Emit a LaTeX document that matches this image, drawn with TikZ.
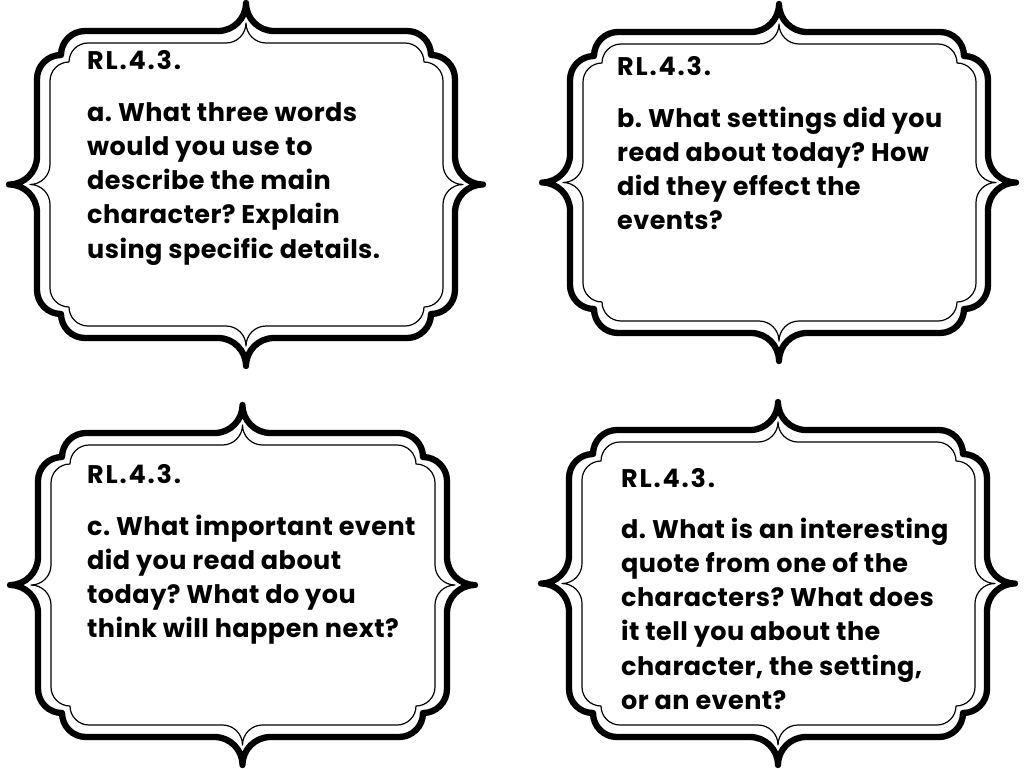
\documentclass[tikz,border=0pt]{standalone}
\usepackage{fontspec}
\setmainfont{Poppins}[LetterSpace=1.8]
\newfontfamily\titlefont{Poppins}[LetterSpace=7]
\tikzset{
  outerline/.style={line width=6.3pt, line join=round, black},
  innerline/.style={line width=1.2pt, line join=round, black},
  titletext/.style={anchor=base west, inner sep=0pt, font=\titlefont\fontsize{25.5}{34.3}\selectfont\bfseries},
  bodytext/.style={anchor=base west, inner sep=0pt, font=\fontsize{25.5}{34.3}\selectfont\bfseries},
}
\newcommand\cardtext[1]{\parbox[t]{400pt}{\raggedright #1}}
% path of one frame, from the macros \fL \fT \fR \fB \fr \fd \fcx \fcy
\newcommand\framepath[1]{%
  \draw[#1] (\fcx,{\fT-\fd})
    .. controls (\fcx,{\fT-\fd+0.552*\fd}) and ({\fcx+\fd-0.552*\fd},\fT) .. ({\fcx+\fd},\fT)
    -- ({\fR-2*\fr},\fT)
    .. controls ({\fR-2*\fr+0.552*\fr},\fT) and ({\fR-\fr},{\fT+\fr-0.552*\fr}) .. ({\fR-\fr},{\fT+\fr})
    .. controls ({\fR-\fr+0.552*\fr},{\fT+\fr}) and (\fR,{\fT+2*\fr-0.552*\fr}) .. (\fR,{\fT+2*\fr})
    -- (\fR,{\fcy-\fd})
    .. controls (\fR,{\fcy-\fd+0.552*\fd}) and ({\fR+\fd-0.552*\fd},\fcy) .. ({\fR+\fd},\fcy)
    .. controls ({\fR+\fd-0.552*\fd},\fcy) and (\fR,{\fcy+\fd-0.552*\fd}) .. (\fR,{\fcy+\fd})
    -- (\fR,{\fB-2*\fr})
    .. controls (\fR,{\fB-2*\fr+0.552*\fr}) and ({\fR-\fr+0.552*\fr},{\fB-\fr}) .. ({\fR-\fr},{\fB-\fr})
    .. controls ({\fR-\fr},{\fB-\fr+0.552*\fr}) and ({\fR-2*\fr+0.552*\fr},\fB) .. ({\fR-2*\fr},\fB)
    -- ({\fcx+\fd},\fB)
    .. controls ({\fcx+\fd-0.552*\fd},\fB) and (\fcx,{\fB+\fd-0.552*\fd}) .. (\fcx,{\fB+\fd})
    .. controls (\fcx,{\fB+\fd-0.552*\fd}) and ({\fcx-\fd+0.552*\fd},\fB) .. ({\fcx-\fd},\fB)
    -- ({\fL+2*\fr},\fB)
    .. controls ({\fL+2*\fr-0.552*\fr},\fB) and ({\fL+\fr},{\fB-\fr+0.552*\fr}) .. ({\fL+\fr},{\fB-\fr})
    .. controls ({\fL+\fr-0.552*\fr},{\fB-\fr}) and (\fL,{\fB-2*\fr+0.552*\fr}) .. (\fL,{\fB-2*\fr})
    -- (\fL,{\fcy+\fd})
    .. controls (\fL,{\fcy+\fd-0.552*\fd}) and ({\fL-\fd+0.552*\fd},\fcy) .. ({\fL-\fd},\fcy)
    .. controls ({\fL-\fd+0.552*\fd},\fcy) and (\fL,{\fcy-\fd+0.552*\fd}) .. (\fL,{\fcy-\fd})
    -- (\fL,{\fT+2*\fr})
    .. controls (\fL,{\fT+2*\fr-0.552*\fr}) and ({\fL+\fr-0.552*\fr},{\fT+\fr}) .. ({\fL+\fr},{\fT+\fr})
    .. controls ({\fL+\fr},{\fT+\fr-0.552*\fr}) and ({\fL+2*\fr-0.552*\fr},\fT) .. ({\fL+2*\fr},\fT)
    -- ({\fcx-\fd},\fT)
    .. controls ({\fcx-\fd+0.552*\fd},\fT) and (\fcx,{\fT-\fd+0.552*\fd}) .. (\fcx,{\fT-\fd})
    -- cycle;}
% \cardframe{L}{T}{R}{B}
\newcommand\cardframe[4]{%
  \pgfmathsetmacro\fcx{(#1+#3)/2}\pgfmathsetmacro\fcy{(#2+#4)/2}%
  \def\fL{#1}\def\fT{#2}\def\fR{#3}\def\fB{#4}\def\fr{24}\def\fd{28}%
  \framepath{outerline}%
  \pgfmathsetmacro\fL{#1+13}\pgfmathsetmacro\fT{#2+12}%
  \pgfmathsetmacro\fR{#3-12}\pgfmathsetmacro\fB{#4-12}%
  \def\fr{19}\def\fd{20}%
  \framepath{innerline}%
}
\begin{document}
\frenchspacing
\begin{tikzpicture}[x=1pt,y=-1pt]
  \useasboundingbox[fill=white] (0,0) rectangle (1024,768);
  % frames
  \cardframe{37}{31}{455}{338}
  \cardframe{570}{32}{988}{333}
  \cardframe{38}{433}{447}{737}
  \cardframe{569}{430}{987}{737}
  % card a
  \node[titletext] (ta) at (87,70) {RL.4.3.};
  \node[bodytext] (ba) at (87,121) {\cardtext{a. What three words\\would you use to\\describe the main\\character? Explain\\using specific details.}};
  % card b
  \node[titletext] (tb) at (617,75) {RL.4.3.};
  \node[bodytext] (bb) at (617,127) {\cardtext{b. What settings did you\\read about today? How\\did they effect the\\events?}};
  % card c
  \node[titletext] (tc) at (87,483) {RL.4.3.};
  \node[bodytext] (bc) at (87,535) {\cardtext{c. What important event\\did you read about\\today? What do you\\think will happen next?}};
  % card d
  \node[titletext] (td) at (621,487) {RL.4.3.};
  \node[bodytext] (bd) at (621,538) {\cardtext{d. What is an interesting\\quote from one of the\\characters? What does\\it tell you about the\\character, the setting,\\or an event?}};
\end{tikzpicture}
\end{document}
